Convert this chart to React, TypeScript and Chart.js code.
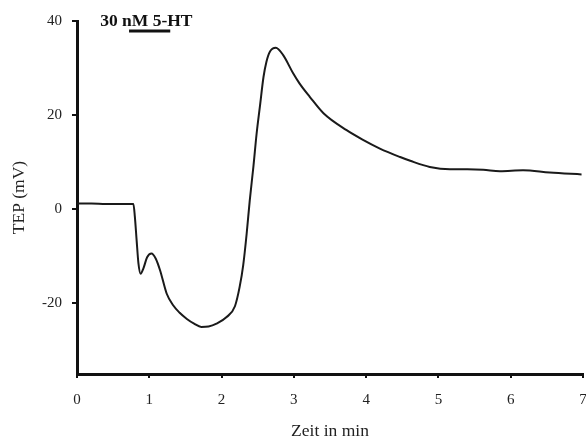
import React, { useEffect, useRef } from "react";
import { Chart, registerables } from "chart.js";

Chart.register(...registerables);

const timeMin: number[] = [0, 0.2, 0.4, 0.6, 0.78, 0.8, 0.825, 0.85, 0.88, 0.92, 0.97, 1.03, 1.09, 1.15, 1.24, 1.33, 1.42, 1.52, 1.62, 1.72, 1.82, 1.93, 2.07, 2.185, 2.25, 2.3, 2.347, 2.39, 2.44, 2.485, 2.53, 2.58, 2.62, 2.67, 2.75, 2.85, 2.99, 3.08, 3.22, 3.41, 3.73, 3.95, 4.19, 4.47, 4.61, 4.88, 5.16, 5.4, 5.62, 5.85, 6.17, 6.54, 6.98];
const tepMv: number[] = [1.2, 1.2, 1.1, 1.1, 1.1, -1.5, -6.6, -11.5, -13.7, -12.5, -10.2, -9.4, -10.5, -13, -17.9, -20.4, -22.0, -23.3, -24.3, -25.0, -24.9, -24.3, -22.9, -20.6, -16.5, -11.8, -5.2, 1.9, 9.0, 16.1, 21.8, 28.1, 31.3, 33.5, 34.3, 32.8, 28.9, 26.7, 23.9, 20.4, 16.8, 14.8, 12.9, 11.1, 10.3, 9.0, 8.5, 8.5, 8.4, 8.1, 8.3, 7.8, 7.4];

const drugLabel = "30 nM 5-HT";
const drugStart = 0.72;
const drugEnd = 1.29;
const drugBarLevel = 37.9;
const drugLabelX = 0.32;
const drugLabelY = 40;

const xTitle = "Zeit in min";
const yTitle = "TEP (mV)";

const FONT = "'Liberation Serif', 'Times New Roman', serif";

export default function App() {
  const ref = useRef<HTMLCanvasElement | null>(null);

  useEffect(() => {
    if (!ref.current) return;
    const labelPlugin = {
      id: "drugLabel",
      afterDatasetsDraw(chart: any) {
        const { ctx, scales } = chart;
        const x = scales.x.getPixelForValue(drugLabelX);
        const y = scales.y.getPixelForValue(drugLabelY);
        ctx.save();
        ctx.font = `bold 17.5px ${FONT}`;
        ctx.fillStyle = "#111";
        ctx.textAlign = "left";
        ctx.textBaseline = "middle";
        ctx.fillText(drugLabel, x, y);
        ctx.restore();
      },
    };
    const chart = new Chart(ref.current, {
      type: "line",
      data: {
        datasets: [
          {
            data: timeMin.map((t, i) => ({ x: t, y: tepMv[i] })),
            borderColor: "#1a1a1a",
            borderWidth: 2,
            pointRadius: 0,
            cubicInterpolationMode: "monotone",
            fill: false,
          },
          {
            data: [
              { x: drugStart, y: drugBarLevel },
              { x: drugEnd, y: drugBarLevel },
            ],
            borderColor: "#111",
            borderWidth: 3,
            pointRadius: 0,
            fill: false,
          },
        ],
      },
      options: {
        animation: false,
        responsive: false,
        layout: { padding: { left: 0, right: 3, top: 21, bottom: 0 } },
        plugins: { legend: { display: false }, tooltip: { enabled: false } },
        scales: {
          x: {
            type: "linear",
            min: 0,
            max: 7,
            ticks: { stepSize: 1, color: "#222", font: { family: FONT, size: 15 }, padding: 13 },
            grid: { display: true, drawOnChartArea: false, drawTicks: true, tickLength: 4, lineWidth: 2, color: "#111" },
            border: { display: true, width: 3, color: "#111" },
            title: { display: true, text: xTitle, color: "#222", font: { family: FONT, size: 17.5 }, padding: { top: 0, bottom: -3 } },
            afterFit: (s: any) => { s.height = 65; s.paddingRight = 3; s.paddingLeft = 0; },
          },
          y: {
            type: "linear",
            min: -35,
            max: 40,
            ticks: { stepSize: 20, includeBounds: false, color: "#222", font: { family: FONT, size: 15 }, padding: 10, callback: (v: any) => String(v) },
            grid: { display: true, drawOnChartArea: false, drawTicks: true, tickLength: 5, lineWidth: 2, color: "#111" },
            border: { display: true, width: 3, color: "#111" },
            title: { display: true, text: yTitle, color: "#222", font: { family: FONT, size: 17.5 }, padding: { top: 9, bottom: 0 } },
            afterFit: (s: any) => { s.width = 77; },
          },
        },
      },
      plugins: [labelPlugin],
    } as any);
    return () => chart.destroy();
  }, []);

  return (
    <div style={{ position: "fixed", left: 0, top: 0, width: 586, height: 439, background: "#fff" }}>
      <canvas ref={ref} width={586} height={439} style={{ width: 586, height: 439 }} />
    </div>
  );
}
